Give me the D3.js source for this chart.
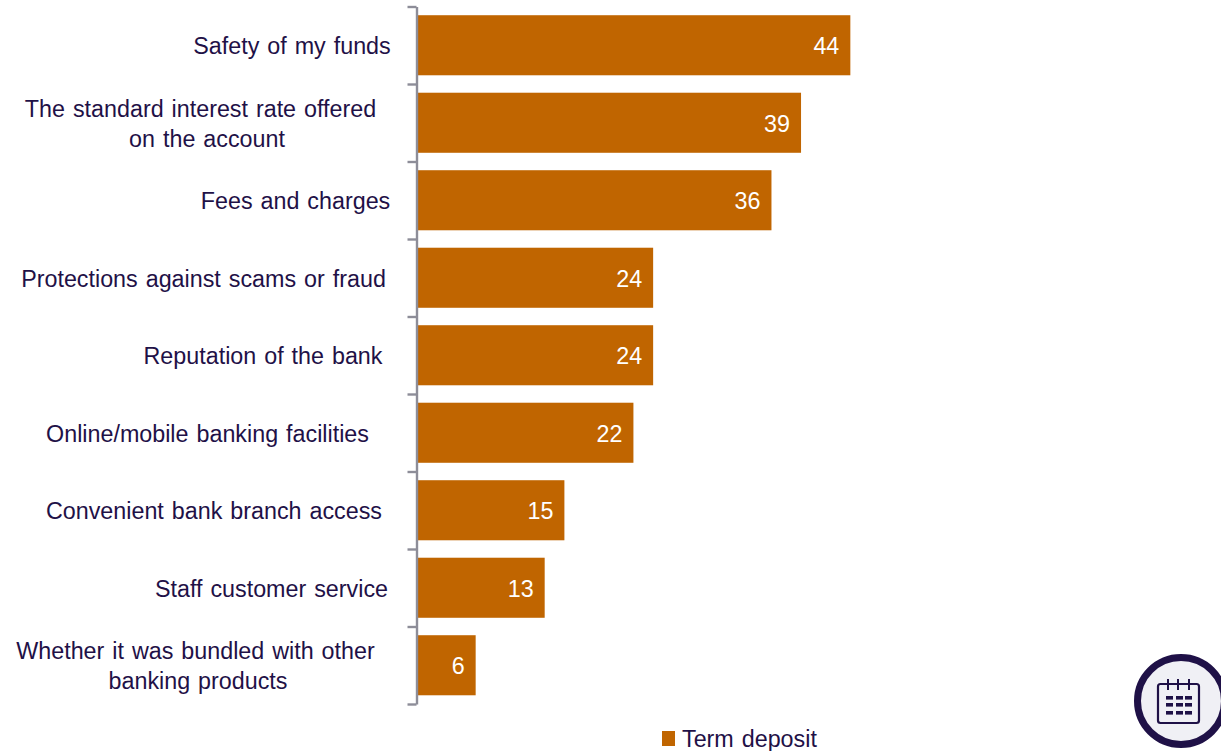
<!DOCTYPE html>
<html>
<head>
<meta charset="utf-8">
<script src="https://cdn.jsdelivr.net/npm/d3@7/dist/d3.min.js"></script>
<style>
  html, body { margin: 0; padding: 0; background: #fff; }
  svg { display: block; }
  text { font-family: "Liberation Sans", Arial, sans-serif; word-spacing: 1.5px; }
</style>
</head>
<body>
<svg id="chart" width="1221" height="751"></svg>
<script>
// Reasons for choosing a term deposit, per cent of respondents
const categories = [
  "Safety of my funds",
  "The standard interest rate offered on the account",
  "Fees and charges",
  "Protections against scams or fraud",
  "Reputation of the bank",
  "Online/mobile banking facilities",
  "Convenient bank branch access",
  "Staff customer service",
  "Whether it was bundled with other banking products"
];
const categoryLines = [
  ["Safety of my funds"],
  ["The standard interest rate offered", "on the account"],
  ["Fees and charges"],
  ["Protections against scams or fraud"],
  ["Reputation of the bank"],
  ["Online/mobile banking facilities"],
  ["Convenient bank branch access"],
  ["Staff customer service"],
  ["Whether it was bundled with other", "banking products"]
];
const termDeposit = [44, 39, 36, 24, 24, 22, 15, 13, 6];
const seriesName = "Term deposit";

// Layout
const axisX = 416.5, plotTop = 6.5, plotBottom = 704;
const pxPerUnit = 9.86;
const labelCentres = [[292], [200.5, 207], [295.5], [203.5], [263], [207.5], [214], [271.5], [195.5, 198]];
const navy = "#1f1147", barColour = "#c06500", axisColour = "#8d8d98";
const fontSize = 23.3;

const svg = d3.select("#chart");

const x = d3.scaleLinear().domain([0, 44]).range([axisX, axisX + 44 * pxPerUnit]);
const y = d3.scaleBand().domain(categories).range([plotTop, plotBottom])
  .paddingInner(0.225).paddingOuter(0.1125);
const tickScale = d3.scaleLinear().domain([0, categories.length]).range([plotTop, plotBottom]);

// Bars
svg.append("g").selectAll("rect").data(categories).join("rect")
  .attr("x", axisX)
  .attr("y", d => y(d))
  .attr("width", (d, i) => x(termDeposit[i]) - axisX)
  .attr("height", y.bandwidth())
  .attr("fill", barColour);

// Category axis: ticks fall between the bars
const axis = d3.axisLeft(tickScale)
  .tickValues(d3.range(categories.length + 1))
  .tickFormat("")
  .tickSize(9)
  .tickSizeOuter(0);
const axisG = svg.append("g").attr("transform", `translate(${axisX},0)`).call(axis);
axisG.selectAll(".domain, line").attr("stroke", axisColour).attr("stroke-width", 2.4);

// Category labels
categoryLines.forEach((lines, i) => {
  const cy = y(categories[i]) + y.bandwidth() / 2 + 0.6;
  lines.forEach((line, j) => {
    svg.append("text")
      .attr("x", labelCentres[i][j])
      .attr("y", cy + (j - (lines.length - 1) / 2) * 30)
      .attr("dy", "0.35em")
      .attr("text-anchor", "middle")
      .attr("font-size", fontSize)
      .attr("fill", navy)
      .text(line);
  });
});

// Value labels inside the bar ends
svg.append("g").selectAll("text").data(categories).join("text")
  .attr("x", (d, i) => x(termDeposit[i]) - 11)
  .attr("y", d => y(d) + y.bandwidth() / 2 + 0.6)
  .attr("dy", "0.35em")
  .attr("text-anchor", "end")
  .attr("font-size", fontSize)
  .attr("fill", "#fff")
  .text((d, i) => termDeposit[i]);

// Legend
svg.append("rect").attr("x", 662).attr("y", 731).attr("width", 13).attr("height", 15).attr("fill", barColour);
svg.append("text").attr("x", 682).attr("y", 746.5)
  .attr("font-size", fontSize).attr("fill", navy).text(seriesName);

// Calendar badge
const badge = svg.append("g").attr("transform", "translate(1181,701)");
badge.append("circle").attr("r", 43.5).attr("fill", "#f0f0f5").attr("stroke", navy).attr("stroke-width", 7);
badge.append("rect").attr("x", -23).attr("y", -17).attr("width", 41).attr("height", 39).attr("rx", 2.5)
  .attr("fill", "none").attr("stroke", navy).attr("stroke-width", 2.2);
[-13, -3, 8].forEach(cx => {
  badge.append("line").attr("x1", cx).attr("x2", cx).attr("y1", -22).attr("y2", -11)
    .attr("stroke", navy).attr("stroke-width", 2);
});
[-5, 2, 10].forEach(ry => {
  [-15, -5, 4].forEach(rx => {
    badge.append("rect").attr("x", rx).attr("y", ry).attr("width", 7).attr("height", 3.6).attr("fill", navy);
  });
});
</script>
</body>
</html>
